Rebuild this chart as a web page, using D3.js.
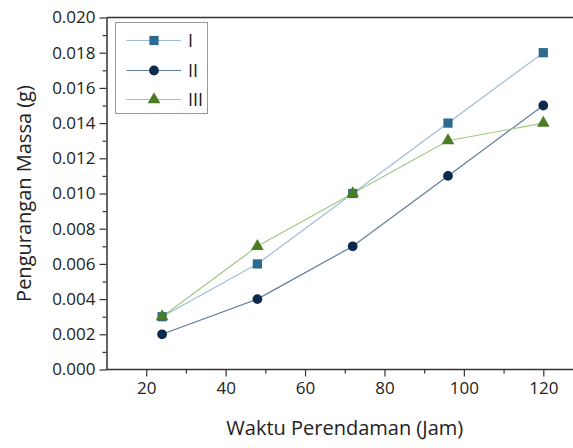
<!DOCTYPE html>
<html><head><meta charset="utf-8">
<script src="https://cdn.jsdelivr.net/npm/d3@7"></script>
<style>html,body{margin:0;padding:0;background:#fff;overflow:hidden;width:573px;height:448px}svg{display:block;overflow:hidden}text{font-family:"Open Sans",sans-serif;fill:#222}</style>
</head><body><svg id="c" width="573" height="448"></svg>
<script>
const hours = [24, 48, 72, 96, 120];
const seriesNames = ["I", "II", "III"];
const valuesI = [0.003, 0.006, 0.010, 0.014, 0.018];
const valuesII = [0.002, 0.004, 0.007, 0.011, 0.015];
const valuesIII = [0.003, 0.007, 0.010, 0.013, 0.014];
const xTicks = [20, 40, 60, 80, 100, 120];
const yTicks = [0, 0.002, 0.004, 0.006, 0.008, 0.010, 0.012, 0.014, 0.016, 0.018, 0.020];

const series = [
  {name: seriesNames[0], values: valuesI, line: "#9dbdd6", fill: "#2d6a8f", shape: d3.symbolSquare},
  {name: seriesNames[1], values: valuesII, line: "#5f7d9c", fill: "#0c2a4d", shape: d3.symbolCircle},
  {name: seriesNames[2], values: valuesIII, line: "#a3c784", fill: "#4a7d22", shape: d3.symbolTriangle}
];

const svg = d3.select("#c");
const W = 573;
const L = 106.5, T = 17.5, R = 583, B = 369.5;
const x = d3.scaleLinear().domain([10, 130]).range([L, R]);
const y = d3.scaleLinear().domain([0, 0.020]).range([B, T]);

// axes
const gx = svg.append("g").attr("transform", `translate(0,${B})`)
  .call(d3.axisBottom(x).tickValues(xTicks).tickSize(7).tickSizeOuter(0).tickPadding(5).tickFormat(d3.format("d")));
const gxm = svg.append("g").attr("transform", `translate(0,${B})`)
  .call(d3.axisBottom(x).tickValues([30, 50, 70, 90, 110]).tickSize(4).tickSizeOuter(0).tickFormat(""));
const gy = svg.append("g").attr("transform", `translate(${L},0)`)
  .call(d3.axisLeft(y).tickValues(yTicks).tickSize(7).tickSizeOuter(0).tickPadding(4).tickFormat(d3.format(".3f")));
const gym = svg.append("g").attr("transform", `translate(${L},0)`)
  .call(d3.axisLeft(y).tickValues(d3.range(1, 20, 2).map(v => v / 1000)).tickSize(4).tickSizeOuter(0).tickFormat(""));
gx.select(".domain").attr("d", `M${L},0H${W}`);
gxm.select(".domain").remove();
gym.select(".domain").remove();
[gx, gxm, gy, gym].forEach(g => {
  g.selectAll(".domain").attr("stroke", "#333").attr("stroke-width", 1.5);
  g.selectAll(".tick line").attr("stroke", "#333").attr("stroke-width", 1.2);
  g.selectAll("text").attr("font-size", 17).attr("fill", "#1a1a1a").attr("font-family", '"Open Sans",sans-serif');
});
// top frame
svg.append("line").attr("x1", L).attr("x2", W).attr("y1", T).attr("y2", T)
  .attr("stroke", "#333").attr("stroke-width", 1.5);

// axis titles
svg.append("text").attr("x", (L + R) / 2).attr("y", 435).attr("text-anchor", "middle")
  .attr("font-size", 20).attr("fill", "#1a1a1a").text("Waktu Perendaman (Jam)");
svg.append("text").attr("transform", `translate(31,${(T + B) / 2}) rotate(-90)`).attr("text-anchor", "middle")
  .attr("font-size", 20).attr("fill", "#1a1a1a").text("Pengurangan Massa (g)");

// lines & markers
const line = d3.line().x((d, i) => x(hours[i])).y(d => y(d));
series.forEach(s => {
  svg.append("path").attr("d", line(s.values)).attr("fill", "none")
    .attr("stroke", s.line).attr("stroke-width", 1.2);
});
const sizes = {I: 85, II: 75, III: 70};
series.forEach(s => {
  svg.selectAll(null).data(s.values).enter().append("path")
    .attr("d", d3.symbol().type(s.shape).size(sizes[s.name]))
    .attr("transform", (d, i) => `translate(${x(hours[i])},${y(d)})`)
    .attr("fill", s.fill);
});

// legend
svg.append("rect").attr("x", 115.5).attr("y", 22.5).attr("width", 92).attr("height", 91)
  .attr("fill", "#fff").attr("stroke", "#999").attr("stroke-width", 1);
const ly = [40.5, 70.5, 99.5];
series.forEach((s, i) => {
  svg.append("line").attr("x1", 126.5).attr("x2", 181).attr("y1", ly[i]).attr("y2", ly[i])
    .attr("stroke", s.line).attr("stroke-width", 1.2);
  svg.append("path").attr("d", d3.symbol().type(s.shape).size(sizes[s.name]))
    .attr("transform", `translate(154,${ly[i]})`).attr("fill", s.fill);
  svg.append("text").attr("x", 188).attr("y", ly[i] + 6.5).attr("font-size", 18).attr("fill", "#1a1a1a").text(s.name);
});
</script></body></html>
